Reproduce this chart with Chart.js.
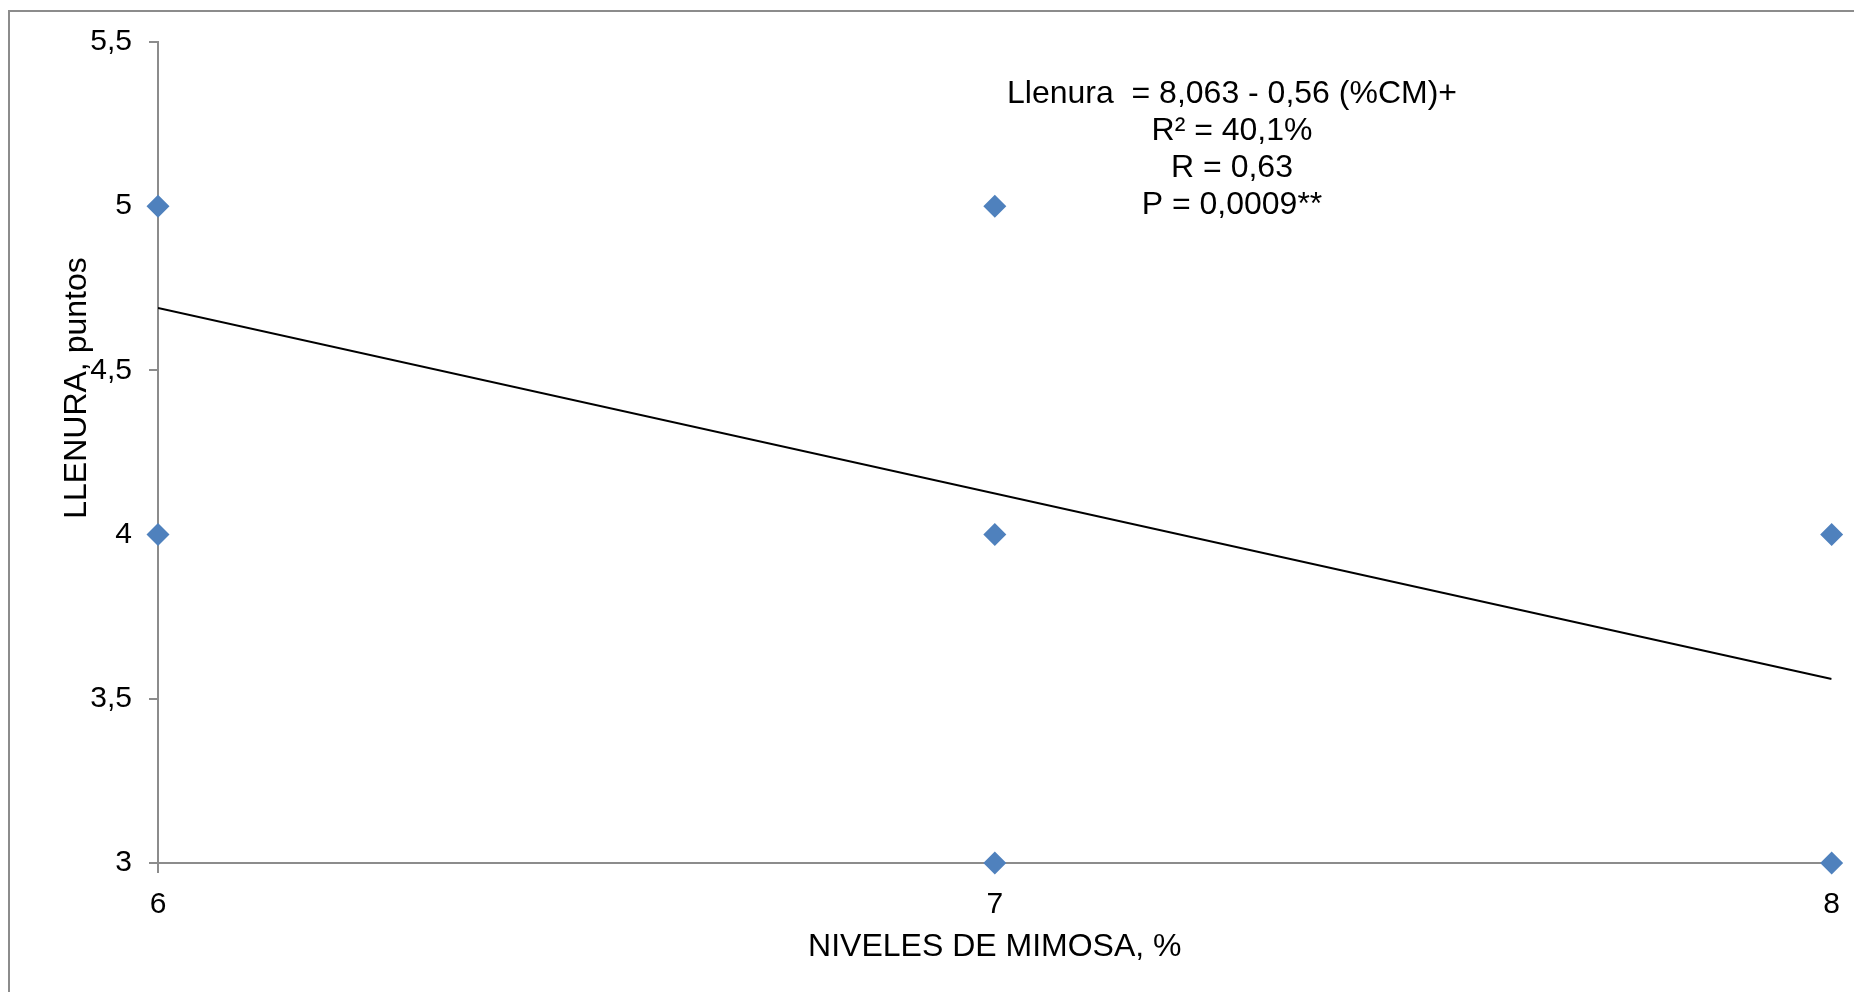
<!DOCTYPE html>
<html>
<head>
<meta charset="utf-8">
<script src="https://cdn.jsdelivr.net/npm/chart.js@4.4.1/dist/chart.umd.min.js"></script>
<style>
    body { margin: 0; background: #fff; overflow: hidden; }
    #frame { position: absolute; left: 8px; top: 10px; width: 2000px; height: 1100px;
             border-left: 2px solid #8c8c8c; border-top: 2px solid #8c8c8c; }
    #chart { position: absolute; left: 0; top: 0; }
</style>
</head>
<body>
<div id="frame"></div>
<canvas id="chart" width="1854" height="992"></canvas>
<script>
// observed points (nivel de mimosa %, llenura puntos)
const mimosaLevels = [6, 6, 7, 7, 7, 8, 8];
const llenuraScores = [5, 4, 5, 4, 3, 4, 3];

// regression line ends
const trendX = [6, 8];
const trendY = [4.69, 3.56];

const xTitle = 'NIVELES DE MIMOSA, %';
const yTitle = 'LLENURA, puntos';
const equationLines = ['Llenura  = 8,063 - 0,56 (%CM)+', 'R² = 40,1%', 'R = 0,63', 'P = 0,0009**'];

const FONT = 'Arial, "Liberation Sans", sans-serif';
const axisGray = '#8c8c8c';

const points = mimosaLevels.map((x, i) => ({ x: x, y: llenuraScores[i] }));
const trend = trendX.map((x, i) => ({ x: x, y: trendY[i] }));

// titles and the regression text, placed like the original
const textPlugin = {
    id: 'textPlugin',
    afterDraw(chart) {
        const ctx = chart.ctx;
        const area = chart.chartArea;
        ctx.save();
        ctx.fillStyle = '#000';
        ctx.font = '32px ' + FONT;
        ctx.textAlign = 'center';
        ctx.textBaseline = 'middle';

        // equation block
        let y = 94;
        equationLines.forEach(line => {
            ctx.fillText(line, 1232, y);
            y += 37;
        });

        // x title
        ctx.fillText(xTitle, (area.left + area.right) / 2, 947);

        // y title (sits above the middle in the original)
        ctx.translate(77, 388);
        ctx.rotate(-Math.PI / 2);
        ctx.fillText(yTitle, 0, 0);
        ctx.restore();
    }
};

const ctx = document.getElementById('chart').getContext('2d');
new Chart(ctx, {
    type: 'scatter',
    data: {
        datasets: [{
            label: 'Llenura',
            data: points,
            pointStyle: 'rectRot',
            pointRadius: 11.5,
            pointHoverRadius: 11.5,
            backgroundColor: '#4f81bd',
            borderColor: '#4f81bd',
            borderWidth: 0,
            clip: false,
            order: 1
        }, {
            type: 'line',
            label: 'Tendencia',
            data: trend,
            borderColor: '#000',
            borderWidth: 2,
            pointRadius: 0,
            fill: false,
            order: 2
        }]
    },
    options: {
        responsive: false,
        animation: false,
        layout: { padding: { left: 0, top: 42, right: 21, bottom: 0 } },
        plugins: {
            legend: { display: false },
            tooltip: { enabled: false }
        },
        scales: {
            x: {
                type: 'linear',
                min: 6,
                max: 8,
                afterFit(scale) { scale.height = 129; },
                ticks: {
                    stepSize: 1,
                    color: '#000',
                    padding: 14,
                    font: { family: FONT, size: 30 }
                },
                grid: {
                    drawOnChartArea: false,
                    tickLength: 10,
                    color: axisGray,
                    lineWidth: 2
                },
                border: { color: axisGray, width: 2 }
            },
            y: {
                min: 3,
                max: 5.5,
                afterFit(scale) { scale.width = 158; },
                ticks: {
                    stepSize: 0.5,
                    color: '#000',
                    padding: 17,
                    font: { family: FONT, size: 30 },
                    callback: v => String(v).replace('.', ',')
                },
                grid: {
                    drawOnChartArea: false,
                    tickLength: 9,
                    color: axisGray,
                    lineWidth: 2
                },
                border: { color: axisGray, width: 2 }
            }
        }
    },
    plugins: [textPlugin]
});
</script>
</body>
</html>
